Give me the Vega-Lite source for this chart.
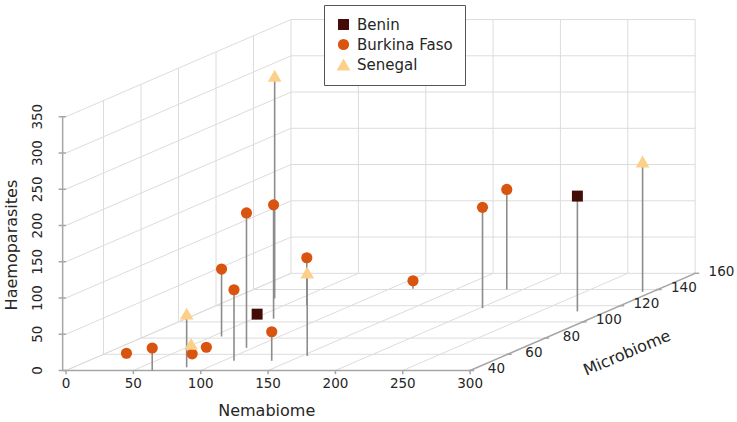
{
  "$schema": "https://vega.github.io/schema/vega-lite/v6.json",
  "width": 737,
  "height": 422,
  "autosize": "none",
  "padding": 0,
  "background": "white",
  "config": {
    "view": {"stroke": null},
    "font": "DejaVu Sans",
    "text": {"font": "DejaVu Sans", "color": "#262626"}
  },
  "datasets": {
    "samples": [
      {"country": "Benin", "nemabiome": 50, "microbiome": 106, "haemoparasites": 4},
      {"country": "Benin", "nemabiome": 278, "microbiome": 113, "haemoparasites": 159},
      {"country": "Burkina Faso", "nemabiome": 24, "microbiome": 55, "haemoparasites": 7},
      {"country": "Burkina Faso", "nemabiome": 64, "microbiome": 40, "haemoparasites": 31},
      {"country": "Burkina Faso", "nemabiome": 70, "microbiome": 57, "haemoparasites": 4},
      {"country": "Burkina Faso", "nemabiome": 68, "microbiome": 66, "haemoparasites": 3},
      {"country": "Burkina Faso", "nemabiome": 57, "microbiome": 82, "haemoparasites": 93},
      {"country": "Burkina Faso", "nemabiome": 108, "microbiome": 52, "haemoparasites": 98},
      {"country": "Burkina Faso", "nemabiome": 95, "microbiome": 68, "haemoparasites": 186},
      {"country": "Burkina Faso", "nemabiome": 65, "microbiome": 104, "haemoparasites": 157},
      {"country": "Burkina Faso", "nemabiome": 136, "microbiome": 52, "haemoparasites": 40},
      {"country": "Burkina Faso", "nemabiome": 66, "microbiome": 121, "haemoparasites": 65},
      {"country": "Burkina Faso", "nemabiome": 117, "microbiome": 141, "haemoparasites": 11},
      {"country": "Burkina Faso", "nemabiome": 202, "microbiome": 117, "haemoparasites": 139},
      {"country": "Burkina Faso", "nemabiome": 188, "microbiome": 140, "haemoparasites": 138},
      {"country": "Senegal", "nemabiome": 84, "microbiome": 44, "haemoparasites": 74},
      {"country": "Senegal", "nemabiome": 72, "microbiome": 55, "haemoparasites": 20},
      {"country": "Senegal", "nemabiome": 31, "microbiome": 129, "haemoparasites": 307},
      {"country": "Senegal", "nemabiome": 154, "microbiome": 58, "haemoparasites": 115},
      {"country": "Senegal", "nemabiome": 293, "microbiome": 137, "haemoparasites": 180}
    ],
    "panes": [
      {"n1": 0, "m1": 40, "h1": 0, "n2": 0, "m2": 160, "h2": 0},
      {"n1": 0, "m1": 40, "h1": 50, "n2": 0, "m2": 160, "h2": 50},
      {"n1": 0, "m1": 40, "h1": 100, "n2": 0, "m2": 160, "h2": 100},
      {"n1": 0, "m1": 40, "h1": 150, "n2": 0, "m2": 160, "h2": 150},
      {"n1": 0, "m1": 40, "h1": 200, "n2": 0, "m2": 160, "h2": 200},
      {"n1": 0, "m1": 40, "h1": 250, "n2": 0, "m2": 160, "h2": 250},
      {"n1": 0, "m1": 40, "h1": 300, "n2": 0, "m2": 160, "h2": 300},
      {"n1": 0, "m1": 40, "h1": 350, "n2": 0, "m2": 160, "h2": 350},
      {"n1": 0, "m1": 60, "h1": 0, "n2": 0, "m2": 60, "h2": 350},
      {"n1": 0, "m1": 80, "h1": 0, "n2": 0, "m2": 80, "h2": 350},
      {"n1": 0, "m1": 100, "h1": 0, "n2": 0, "m2": 100, "h2": 350},
      {"n1": 0, "m1": 120, "h1": 0, "n2": 0, "m2": 120, "h2": 350},
      {"n1": 0, "m1": 140, "h1": 0, "n2": 0, "m2": 140, "h2": 350},
      {"n1": 0, "m1": 160, "h1": 0, "n2": 0, "m2": 160, "h2": 350},
      {"n1": 0, "m1": 160, "h1": 0, "n2": 300, "m2": 160, "h2": 0},
      {"n1": 0, "m1": 160, "h1": 50, "n2": 300, "m2": 160, "h2": 50},
      {"n1": 0, "m1": 160, "h1": 100, "n2": 300, "m2": 160, "h2": 100},
      {"n1": 0, "m1": 160, "h1": 150, "n2": 300, "m2": 160, "h2": 150},
      {"n1": 0, "m1": 160, "h1": 200, "n2": 300, "m2": 160, "h2": 200},
      {"n1": 0, "m1": 160, "h1": 250, "n2": 300, "m2": 160, "h2": 250},
      {"n1": 0, "m1": 160, "h1": 300, "n2": 300, "m2": 160, "h2": 300},
      {"n1": 0, "m1": 160, "h1": 350, "n2": 300, "m2": 160, "h2": 350},
      {"n1": 50, "m1": 160, "h1": 0, "n2": 50, "m2": 160, "h2": 350},
      {"n1": 100, "m1": 160, "h1": 0, "n2": 100, "m2": 160, "h2": 350},
      {"n1": 150, "m1": 160, "h1": 0, "n2": 150, "m2": 160, "h2": 350},
      {"n1": 200, "m1": 160, "h1": 0, "n2": 200, "m2": 160, "h2": 350},
      {"n1": 250, "m1": 160, "h1": 0, "n2": 250, "m2": 160, "h2": 350},
      {"n1": 300, "m1": 160, "h1": 0, "n2": 300, "m2": 160, "h2": 350},
      {"n1": 0, "m1": 40, "h1": 0, "n2": 0, "m2": 160, "h2": 0},
      {"n1": 50, "m1": 40, "h1": 0, "n2": 50, "m2": 160, "h2": 0},
      {"n1": 100, "m1": 40, "h1": 0, "n2": 100, "m2": 160, "h2": 0},
      {"n1": 150, "m1": 40, "h1": 0, "n2": 150, "m2": 160, "h2": 0},
      {"n1": 200, "m1": 40, "h1": 0, "n2": 200, "m2": 160, "h2": 0},
      {"n1": 250, "m1": 40, "h1": 0, "n2": 250, "m2": 160, "h2": 0},
      {"n1": 300, "m1": 40, "h1": 0, "n2": 300, "m2": 160, "h2": 0},
      {"n1": 0, "m1": 60, "h1": 0, "n2": 300, "m2": 60, "h2": 0},
      {"n1": 0, "m1": 80, "h1": 0, "n2": 300, "m2": 80, "h2": 0},
      {"n1": 0, "m1": 100, "h1": 0, "n2": 300, "m2": 100, "h2": 0},
      {"n1": 0, "m1": 120, "h1": 0, "n2": 300, "m2": 120, "h2": 0},
      {"n1": 0, "m1": 140, "h1": 0, "n2": 300, "m2": 140, "h2": 0}
    ],
    "axisLines": [
      {"n1": -2.5, "m1": 40, "h1": 0, "n2": -2.5, "m2": 40, "h2": 350},
      {"n1": -2.5, "m1": 40, "h1": 0, "n2": 300, "m2": 40, "h2": 0},
      {"n1": 300, "m1": 40, "h1": 0, "n2": 300, "m2": 160, "h2": 0}
    ],
    "haemoTicks": [{"value": 0}, {"value": 50}, {"value": 100}, {"value": 150}, {"value": 200}, {"value": 250}, {"value": 300}, {"value": 350}],
    "nemaTicks": [{"value": 0}, {"value": 50}, {"value": 100}, {"value": 150}, {"value": 200}, {"value": 250}, {"value": 300}],
    "microTicks": [{"value": 40}, {"value": 60}, {"value": 80}, {"value": 100}, {"value": 120}, {"value": 140}, {"value": 160}]
  },
  "layer": [
    {
      "data": {"name": "panes"},
      "transform": [
        {"calculate": "datum.n1 + (datum.m1 - 40) * 1.392", "as": "u1"},
        {"calculate": "datum.h1 + (datum.m1 - 40) * 1.117", "as": "v1"},
        {"calculate": "datum.n2 + (datum.m2 - 40) * 1.392", "as": "u2"},
        {"calculate": "datum.h2 + (datum.m2 - 40) * 1.117", "as": "v2"}
      ],
      "mark": {"type": "rule", "color": "#dcdcdc", "strokeWidth": 1},
      "encoding": {
        "x": {"field": "u1", "type": "quantitative", "scale": {"domain": [-49, 498.1], "nice": false, "zero": false}, "axis": null},
        "y": {"field": "v1", "type": "quantitative", "scale": {"domain": [-71.03, 511], "nice": false, "zero": false}, "axis": null},
        "x2": {"field": "u2"},
        "y2": {"field": "v2"}
      }
    },
    {
      "data": {"name": "axisLines"},
      "transform": [
        {"calculate": "datum.n1 + (datum.m1 - 40) * 1.392", "as": "u1"},
        {"calculate": "datum.h1 + (datum.m1 - 40) * 1.117", "as": "v1"},
        {"calculate": "datum.n2 + (datum.m2 - 40) * 1.392", "as": "u2"},
        {"calculate": "datum.h2 + (datum.m2 - 40) * 1.117", "as": "v2"}
      ],
      "mark": {"type": "rule", "color": "#a6a6a6", "strokeWidth": 1.5},
      "encoding": {
        "x": {"field": "u1", "type": "quantitative"},
        "y": {"field": "v1", "type": "quantitative"},
        "x2": {"field": "u2"},
        "y2": {"field": "v2"}
      }
    },
    {
      "data": {"name": "haemoTicks"},
      "mark": {"type": "rule", "color": "#a6a6a6", "strokeWidth": 1.5},
      "encoding": {
        "x": {"datum": -5.5},
        "x2": {"datum": 0},
        "y": {"field": "value", "type": "quantitative"}
      }
    },
    {
      "data": {"name": "haemoTicks"},
      "mark": {"type": "text", "fontSize": 13.5, "angle": 270, "align": "center", "baseline": "middle"},
      "encoding": {
        "x": {"datum": -20.5},
        "y": {"field": "value", "type": "quantitative"},
        "text": {"field": "value", "type": "quantitative"}
      }
    },
    {
      "data": {"name": "nemaTicks"},
      "mark": {"type": "rule", "color": "#a6a6a6", "strokeWidth": 1.5},
      "encoding": {
        "x": {"field": "value", "type": "quantitative"},
        "y": {"datum": 0},
        "y2": {"datum": -5}
      }
    },
    {
      "data": {"name": "nemaTicks"},
      "mark": {"type": "text", "fontSize": 13.5, "align": "center", "baseline": "middle"},
      "encoding": {
        "x": {"field": "value", "type": "quantitative"},
        "y": {"datum": -19},
        "text": {"field": "value", "type": "quantitative"}
      }
    },
    {
      "data": {"name": "microTicks"},
      "transform": [
        {"calculate": "299 + (datum.value - 40) * 1.392", "as": "u1"},
        {"calculate": "303 + (datum.value - 40) * 1.392", "as": "u2"},
        {"calculate": "(datum.value - 40) * 1.117", "as": "v"}
      ],
      "mark": {"type": "rule", "color": "#a6a6a6", "strokeWidth": 1.5},
      "encoding": {
        "x": {"field": "u1", "type": "quantitative"},
        "x2": {"field": "u2"},
        "y": {"field": "v", "type": "quantitative"}
      }
    },
    {
      "data": {"name": "microTicks"},
      "transform": [
        {"calculate": "319.5 + (datum.value - 40) * 1.392", "as": "u"},
        {"calculate": "2 + (datum.value - 40) * 1.117", "as": "v"}
      ],
      "mark": {"type": "text", "fontSize": 13.5, "align": "center", "baseline": "middle"},
      "encoding": {
        "x": {"field": "u", "type": "quantitative"},
        "y": {"field": "v", "type": "quantitative"},
        "text": {"field": "value", "type": "quantitative"}
      }
    },
    {
      "data": {"values": [{}]},
      "mark": {"type": "text", "text": "Haemoparasites", "fontSize": 16, "angle": 270, "align": "center", "baseline": "middle"},
      "encoding": {"x": {"datum": -40}, "y": {"datum": 173}}
    },
    {
      "data": {"values": [{}]},
      "mark": {"type": "text", "text": "Nemabiome", "fontSize": 16, "align": "center", "baseline": "middle"},
      "encoding": {"x": {"datum": 149}, "y": {"datum": -56}}
    },
    {
      "data": {"values": [{}]},
      "mark": {"type": "text", "text": "Microbiome", "fontSize": 16, "angle": 337, "align": "center", "baseline": "middle"},
      "encoding": {"x": {"datum": 416.5}, "y": {"datum": 24}}
    },
    {
      "data": {"name": "samples"},
      "transform": [
        {"calculate": "datum.nemabiome + (datum.microbiome - 40) * 1.392", "as": "u"},
        {"calculate": "datum.haemoparasites + (datum.microbiome - 40) * 1.117", "as": "v"},
        {"calculate": "(datum.microbiome - 40) * 1.117", "as": "v0"}
      ],
      "mark": {"type": "rule", "color": "#8c8c8c", "strokeWidth": 1.6},
      "encoding": {
        "x": {"field": "u", "type": "quantitative"},
        "y": {"field": "v", "type": "quantitative"},
        "y2": {"field": "v0"}
      }
    },
    {
      "data": {"name": "samples"},
      "transform": [
        {"calculate": "datum.nemabiome + (datum.microbiome - 40) * 1.392", "as": "u"},
        {"calculate": "datum.haemoparasites + (datum.microbiome - 40) * 1.117", "as": "v"}
      ],
      "mark": {"type": "point", "filled": true, "opacity": 1, "strokeWidth": 0},
      "encoding": {
        "x": {"field": "u", "type": "quantitative"},
        "y": {"field": "v", "type": "quantitative"},
        "color": {
          "field": "country",
          "type": "nominal",
          "scale": {"domain": ["Benin", "Burkina Faso", "Senegal"], "range": ["#430c07", "#d9540f", "#fdd08a"]},
          "legend": {
            "title": null,
            "orient": "none",
            "legendX": 324,
            "legendY": 5,
            "padding": 12,
            "fillColor": "white",
            "strokeColor": "#555555",
            "labelFontSize": 15,
            "labelColor": "#262626",
            "labelFont": "DejaVu Sans",
            "labelOffset": 6,
            "rowPadding": 4,
            "symbolSize": 60,
            "symbolStrokeWidth": 0,
            "cornerRadius": 0,
            "labelLimit": 300
          }
        },
        "shape": {
          "field": "country",
          "type": "nominal",
          "scale": {"domain": ["Benin", "Burkina Faso", "Senegal"], "range": ["square", "circle", "triangle-up"]}
        },
        "size": {
          "field": "country",
          "type": "nominal",
          "scale": {"type": "ordinal", "domain": ["Benin", "Burkina Faso", "Senegal"], "range": [120, 125, 190]},
          "legend": null
        }
      }
    }
  ]
}
